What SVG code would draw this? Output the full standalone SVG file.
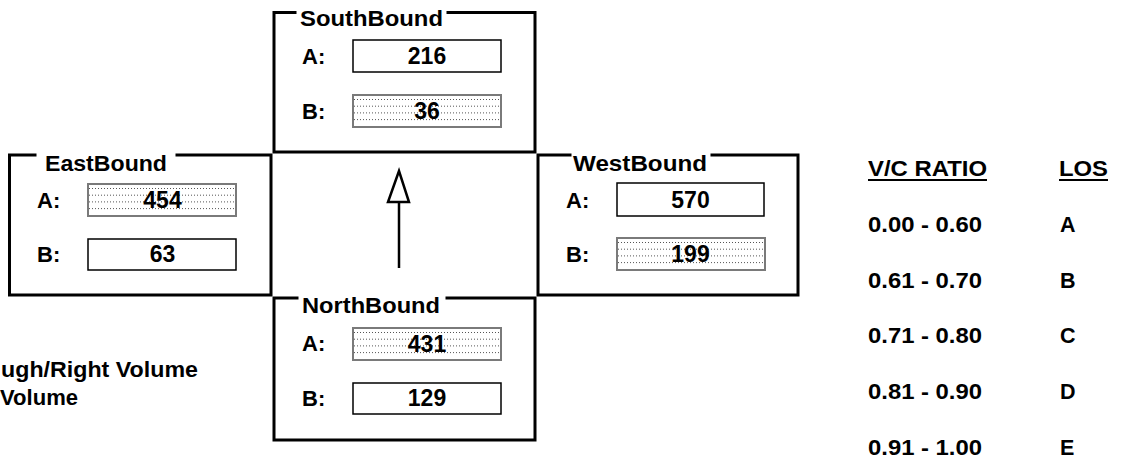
<svg xmlns="http://www.w3.org/2000/svg" width="1121" height="459" viewBox="0 0 1121 459">
  <style>
    text { font-family: "Liberation Sans", Arial, Helvetica, sans-serif; font-weight: bold; fill: #000; }
    .title { font-size: 22px; }
    .lbl { font-size: 22px; }
    .num { font-size: 23px; text-anchor: middle; }
    .legend { font-size: 21.5px; }
    .frame { fill: none; stroke: #000; stroke-width: 3; stroke-linecap: square; }
    .field { fill: #fff; stroke: #000; stroke-width: 1.5; }
    .shade-box { fill: #fff; stroke: #7a7a7a; stroke-width: 2; }
    .dots { stroke: #555; stroke-width: 1; stroke-dasharray: 1 2; }
    .uline { stroke: #000; stroke-width: 2; }
  </style>
  <defs>
    <!-- dotted-fill volume field (148 x 32) -->
    <g id="shaded">
      <rect class="shade-box" x="0" y="0" width="148" height="32"/>
      <path class="dots" d="M1,4.5 H147 M1,11.2 H147 M1,17.9 H147 M1,24.6 H147"/>
    </g>
  </defs>

  <!-- SouthBound approach -->
  <g id="southbound">
    <path class="frame" d="M295,12.5 H274 V152 H535 V12.5 H448"/>
    <text class="title" x="300" y="26" textLength="143" lengthAdjust="spacingAndGlyphs">SouthBound</text>
    <text class="lbl" x="302" y="64">A:</text>
    <rect class="field" x="353" y="40" width="148" height="32"/>
    <text class="num" x="427" y="64">216</text>
    <text class="lbl" x="302" y="119">B:</text>
    <use href="#shaded" x="353" y="95"/>
    <text class="num" x="427" y="119">36</text>
  </g>

  <!-- EastBound approach -->
  <g id="eastbound">
    <path class="frame" d="M35,155 H9.5 V295 H271 V155 H177"/>
    <text class="title" x="45" y="171" textLength="122" lengthAdjust="spacingAndGlyphs">EastBound</text>
    <text class="lbl" x="37" y="208">A:</text>
    <use href="#shaded" x="88" y="184"/>
    <text class="num" x="162.5" y="208">454</text>
    <text class="lbl" x="37" y="262">B:</text>
    <rect class="field" x="88" y="239" width="148" height="31"/>
    <text class="num" x="162.5" y="262">63</text>
  </g>

  <!-- WestBound approach -->
  <g id="westbound">
    <path class="frame" d="M570,155 H538 V295 H798 V155 H712"/>
    <text class="title" x="573" y="171" textLength="134" lengthAdjust="spacingAndGlyphs">WestBound</text>
    <text class="lbl" x="566" y="208">A:</text>
    <rect class="field" x="617" y="183" width="147" height="33"/>
    <text class="num" x="690.5" y="208">570</text>
    <text class="lbl" x="566" y="262">B:</text>
    <use href="#shaded" x="617" y="238"/>
    <text class="num" x="690.5" y="262">199</text>
  </g>

  <!-- NorthBound approach -->
  <g id="northbound">
    <path class="frame" d="M297,298 H274 V440 H535 V298 H447"/>
    <text class="title" x="302" y="313" textLength="138" lengthAdjust="spacingAndGlyphs">NorthBound</text>
    <text class="lbl" x="302" y="351">A:</text>
    <use href="#shaded" x="353" y="328"/>
    <text class="num" x="427" y="352">431</text>
    <text class="lbl" x="302" y="406">B:</text>
    <rect class="field" x="353" y="383" width="148" height="31"/>
    <text class="num" x="427" y="406">129</text>
  </g>

  <!-- north arrow -->
  <g id="connectors">
    <line x1="399" y1="202" x2="399" y2="268" stroke="#000" stroke-width="2.5"/>
    <polygon points="399,171 388,202 409,202" fill="#fff" stroke="#000" stroke-width="2.5" stroke-linejoin="miter"/>
  </g>

  <!-- volume key -->
  <g id="volume-key">
    <text class="legend" x="1" y="377" textLength="197" lengthAdjust="spacingAndGlyphs">ugh/Right Volume</text>
    <text class="legend" x="0" y="405" textLength="78" lengthAdjust="spacingAndGlyphs">Volume</text>
  </g>

  <!-- LOS table -->
  <g id="los-table">
    <text class="legend" x="868" y="176" textLength="119" lengthAdjust="spacingAndGlyphs">V/C RATIO</text>
    <line class="uline" x1="868" y1="180" x2="987" y2="180"/>
    <text class="legend" x="1059" y="176" textLength="49" lengthAdjust="spacingAndGlyphs">LOS</text>
    <line class="uline" x1="1059" y1="180" x2="1108" y2="180"/>

    <text class="legend" x="868" y="232" textLength="114" lengthAdjust="spacingAndGlyphs">0.00 - 0.60</text>
    <text class="legend" x="1060" y="232">A</text>
    <text class="legend" x="868" y="287.5" textLength="114" lengthAdjust="spacingAndGlyphs">0.61 - 0.70</text>
    <text class="legend" x="1060" y="287.5">B</text>
    <text class="legend" x="868" y="343" textLength="114" lengthAdjust="spacingAndGlyphs">0.71 - 0.80</text>
    <text class="legend" x="1060" y="343">C</text>
    <text class="legend" x="868" y="399" textLength="114" lengthAdjust="spacingAndGlyphs">0.81 - 0.90</text>
    <text class="legend" x="1060" y="399">D</text>
    <text class="legend" x="868" y="455" textLength="114" lengthAdjust="spacingAndGlyphs">0.91 - 1.00</text>
    <text class="legend" x="1060" y="455">E</text>
  </g>
</svg>
